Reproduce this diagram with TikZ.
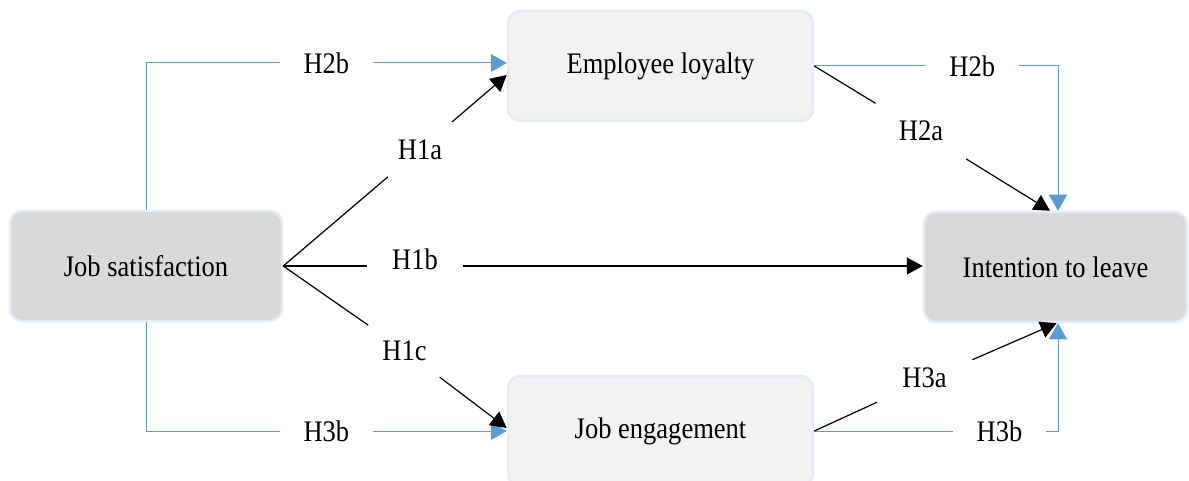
\documentclass[tikz,border=0pt]{standalone}
\usepackage{fontspec}
\setmainfont{Liberation Serif}[FakeStretch=0.89]
\usetikzlibrary{arrows.meta}
\definecolor{bluel}{HTML}{5B9BD5}
\definecolor{boxedge}{HTML}{E4ECF9}
\definecolor{darkbox}{HTML}{D9D9D9}
\definecolor{lightbox}{HTML}{F2F2F2}
\begin{document}
\begin{tikzpicture}[x=1pt,y=-1pt,
  font=\fontsize{29.8}{34}\selectfont,
  box/.style={draw=boxedge, line width=2.5pt, rounded corners=12pt,
    minimum height=110pt, inner sep=0pt},
  blueline/.style={draw=bluel, line width=1pt},
  bluearrow/.style={blueline, -{Triangle[length=16pt,width=18pt]}},
  bline/.style={draw=black, line width=1.2pt},
  barrow/.style={bline, -{Triangle[length=16pt,width=17pt]}},
  lab/.style={fill=white, inner xsep=24pt, inner ysep=2pt},
  gap/.style={circle, inner sep=0pt}
]
\useasboundingbox (0,0) rectangle (1189,481);

% boxes
\node[box, fill=darkbox, minimum width=272pt] (js) at (146,266) {Job satisfaction};
\node[box, fill=lightbox, minimum width=305pt] (el) at (660.5,66) {Employee loyalty};
\node[box, fill=darkbox, minimum width=263pt] (il) at (1055.5,267) {Intention to leave};
\node[box, fill=lightbox, minimum width=305pt] (je) at (660.5,431) {Job engagement};

% blue connectors
\draw[bluearrow] (js.north) |- node[lab, pos=0.75] {H2b} ([yshift=3pt]el.west);
\draw[bluearrow] (el.east) -| node[lab, pos=0.324] {H2b} ([xshift=2.5pt]il.north);
\draw[bluearrow] (js.south) |- node[lab, pos=0.75] {H3b} (je.west);
\draw[bluearrow] (je.east) -| node[lab, pos=0.38] {H3b} ([xshift=2.5pt]il.south);

% black label gaps
\node[gap, minimum size=84pt] (h1a) at (420,149.5) {H1a};
\node[gap, minimum size=96pt] (h1b) at (415,266) {\raisebox{14pt}{H1b}};
\node[gap, minimum size=88pt] (h1c) at (404.5,350.5) {H1c};
\node[gap, minimum size=106pt] (h2a) at (921,131) {\raisebox{-3pt}{H2a}};
\node[gap, minimum size=104pt] (h3a) at (924.5,380.5) {\raisebox{5.5pt}{H3a}};

% black connectors
\draw[bline] (js.east) -- (h1a);
\draw[barrow] (h1a) -- ([yshift=-9pt]el.west);
\draw[bline] (js.east) -- (h1b);
\draw[barrow] (h1b) -- ([yshift=1pt]il.west);
\draw[bline] (js.east) -- (h1c);
\draw[barrow] (h1c) -- ([yshift=3pt]je.west);
\draw[bline] (el.east) -- (h2a);
\draw[barrow] (h2a) -- ([xshift=-5.5pt]il.north);
\draw[bline] (je.east) -- (h3a);
\draw[barrow] (h3a) -- ([xshift=1pt]il.south);
\end{tikzpicture}
\end{document}
